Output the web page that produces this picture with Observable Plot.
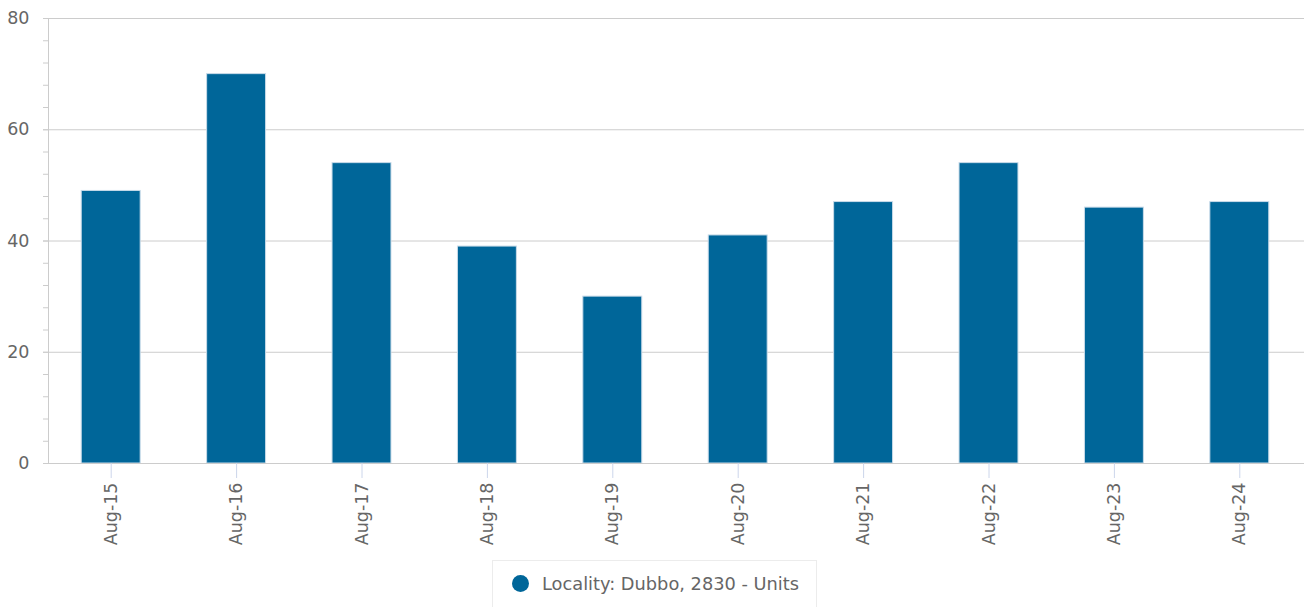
<!DOCTYPE html>
<html>
<head>
<meta charset="utf-8">
<script src="https://cdn.jsdelivr.net/npm/d3@7"></script>
<script src="https://cdn.jsdelivr.net/npm/@observablehq/plot@0.6"></script>
<style>
  html, body { margin: 0; padding: 0; background: #fff; }
  body { width: 1306px; height: 607px; overflow: hidden; font-family: "DejaVu Sans", sans-serif; }
  #chart svg { display: block; }
  .legend {
    position: absolute; left: 492px; top: 560px; width: 325px; height: 50px;
    border: 1px solid #ececec; box-sizing: border-box; background: #fff;
    font-family: "DejaVu Sans", sans-serif; font-size: 17.8px; color: #666;
  }
  .legend .dot {
    position: absolute; left: 19px; top: 14px; width: 17px; height: 17px; border-radius: 50%;
    background: #006699;
  }
  .legend .lbl { position: absolute; left: 49px; top: 12px; white-space: nowrap; }
</style>
</head>
<body>
<div id="chart"></div>
<div class="legend"><span class="dot"></span><span class="lbl" id="lbl"></span></div>
<script>
const categories = ["Aug-15","Aug-16","Aug-17","Aug-18","Aug-19","Aug-20","Aug-21","Aug-22","Aug-23","Aug-24"];
const values = [49, 70, 54, 39, 30, 41, 47, 54, 46, 47];
const seriesName = "Locality: Dubbo, 2830 - Units";
const yMajorTicks = [0, 20, 40, 60, 80];
const yMinorTicks = [0,4,8,12,16,20,24,28,32,36,40,44,48,52,56,60,64,68,72,76,80];

const data = categories.map((c, i) => ({cat: c, value: values[i]}));
const barColor = "#006699";
const gridColor = "#cccccc";

const chart = Plot.plot({
  width: 1306,
  height: 555,
  marginLeft: 48,
  marginRight: 4,
  marginTop: 18,
  marginBottom: 92,
  style: {fontFamily: "DejaVu Sans, sans-serif", color: "#666", background: "#fff", overflow: "visible"},
  x: {domain: categories, paddingInner: 0.53, paddingOuter: 0.265, round: false, label: null},
  y: {domain: [0, 80], label: null},
  marks: [
    Plot.gridY(yMajorTicks, {stroke: gridColor, strokeOpacity: 1, insetRight: -2}),
    Plot.axisY(yMinorTicks, {tickSize: 5, tickFormat: () => "", stroke: gridColor, strokeOpacity: 1, label: null}),
    Plot.axisY(yMajorTicks, {tickSize: 5, tickPadding: 14, stroke: gridColor, strokeOpacity: 1, fill: "#666", fontSize: 17.5, label: null}),
    Plot.barY(data, {x: "cat", y: "value", fill: barColor, stroke: "#c9dbe9", strokeWidth: 1}),
    Plot.ruleY([0], {stroke: gridColor, insetRight: -2}),
    Plot.frame({anchor: "left", stroke: gridColor}),
    Plot.axisX({tickSize: 15, tickPadding: 4, tickRotate: -90, stroke: "#ccd6eb", strokeOpacity: 1, fill: "#666", fontSize: 17.5, label: null})
  ]
});
document.getElementById("chart").appendChild(chart);
document.getElementById("lbl").textContent = seriesName;
</script>
</body>
</html>
